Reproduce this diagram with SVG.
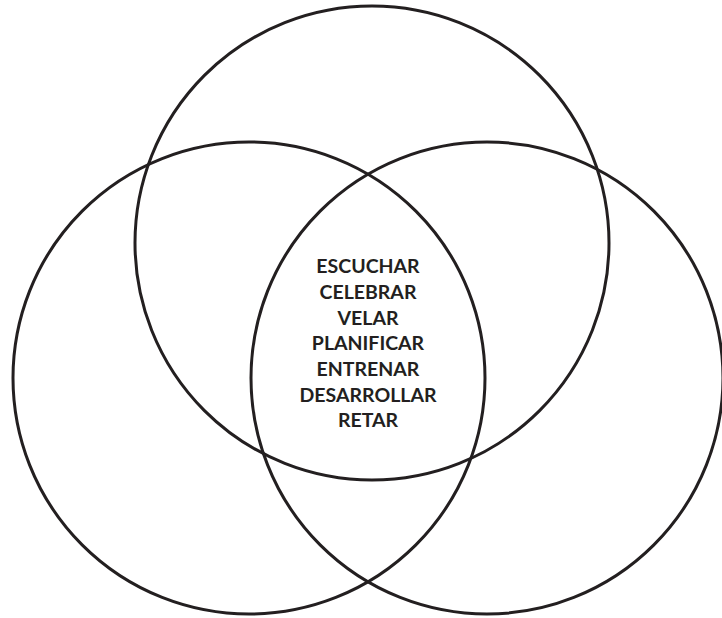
<svg xmlns="http://www.w3.org/2000/svg" width="722" height="618" viewBox="0 0 722 618">
<style>
.c{fill:none;stroke:#231f20;stroke-width:3}
.t{font-family:Lato,"Open Sans","Liberation Sans",sans-serif;font-weight:bold;font-size:19.5px;fill:#231f20;text-anchor:middle}
</style>
<rect width="722" height="618" fill="#fff"/>
<g id="top"><circle class="c" cx="372" cy="243" r="237"/></g>
<g id="left"><circle class="c" cx="249" cy="378" r="236"/></g>
<g id="right"><circle class="c" cx="487" cy="378" r="236"/></g>
<g id="center-text">
<text class="t" x="368" y="273">ESCUCHAR</text>
<text class="t" x="368" y="299">CELEBRAR</text>
<text class="t" x="368" y="325">VELAR</text>
<text class="t" x="368" y="350">PLANIFICAR</text>
<text class="t" x="368" y="376">ENTRENAR</text>
<text class="t" x="368" y="402">DESARROLLAR</text>
<text class="t" x="368" y="427">RETAR</text>
</g>
</svg>
